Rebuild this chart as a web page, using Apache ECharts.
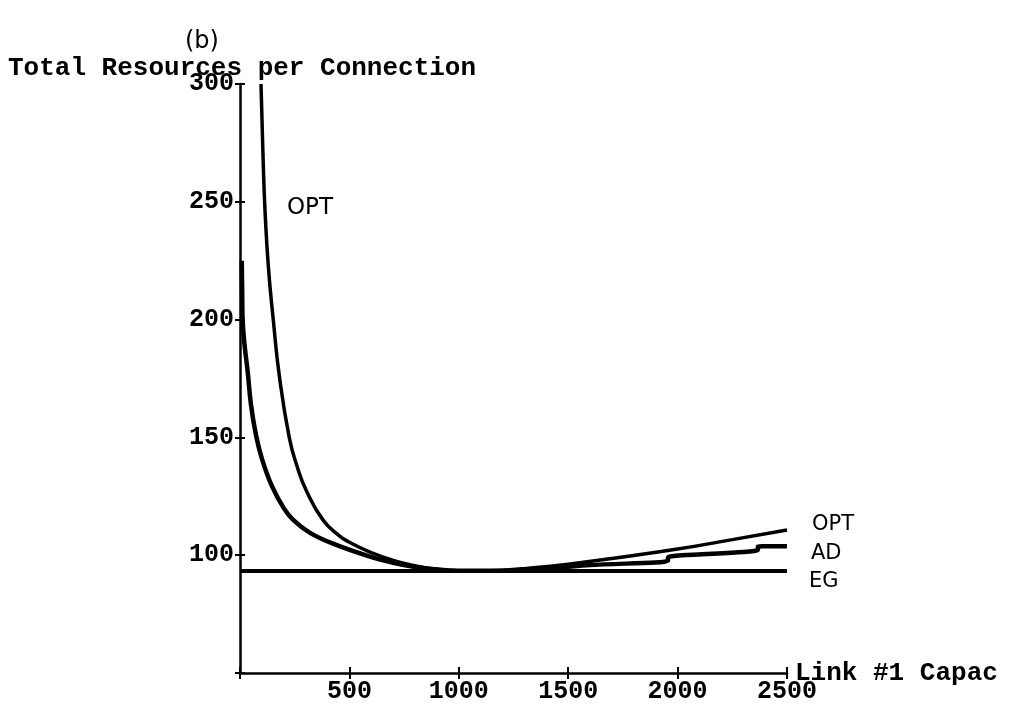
<!DOCTYPE html>
<html>
<head>
<meta charset="utf-8">
<script src="https://cdn.jsdelivr.net/npm/echarts@6/dist/echarts.min.js"></script>
<style>
html,body{margin:0;padding:0;background:#fff;}
#chart{width:1011px;height:710px;}
</style>
</head>
<body>
<div id="chart"></div>
<script>
// ---- data ----
const xTicks = [0, 500, 1000, 1500, 2000, 2500];
const yTicks = [50, 100, 150, 200, 250, 300];

const optX = [96, 105, 115, 130, 152, 180, 225, 260, 305, 379, 450, 500, 594, 700, 800, 900, 1000, 1100, 1200, 1300, 1500, 1700, 2000, 2250, 2500];
const optY = [300, 270, 245, 222, 200, 176, 150, 138, 127, 115, 108.5, 105.5, 101.3, 97.8, 95.5, 94, 93.4, 93.3, 93.6, 94.3, 96.2, 98.6, 102.6, 106.6, 110.7];

const adX = [8, 10, 12, 20, 35, 50, 73, 100, 145, 200, 243, 320, 425, 594, 700, 800, 900, 1000, 1200, 1430, 1600, 1956, 1956, 2367, 2367, 2500];
const adY = [225, 212, 200, 190, 178, 164, 151, 141, 129.5, 120, 115, 109.5, 104.9, 99.4, 96.8, 95, 93.9, 93.4, 93.4, 94.6, 95.8, 97.7, 99.0, 102.3, 103.7, 103.8];

const egX = [0, 2500];
const egY = [93.3, 93.3];

const seriesNames = ['OPT', 'AD', 'EG'];
const annotation = {text: 'OPT', x: 320, y: 247.5};

const zip = (xs, ys) => xs.map((x, i) => [x, ys[i]]);

const mono = 'Liberation Mono';
const hand = 'DejaVu Sans';

const chart = echarts.init(document.getElementById('chart'));

const baseX = {
  type: 'value', min: xTicks[0], max: xTicks[xTicks.length - 1], interval: 500,
  splitLine: {show: false}
};
const baseY = {
  type: 'value', min: yTicks[0], max: yTicks[yTicks.length - 1], interval: 50,
  splitLine: {show: false}
};

chart.setOption({
  animation: false,
  backgroundColor: '#fff',
  title: [
    {text: '(b)', left: 185, top: 30, padding: 0,
     textStyle: {fontFamily: hand, fontSize: 24, fontWeight: 'normal', color: '#000'}},
    {text: 'Total Resources per Connection', left: 8, top: 55, padding: 0,
     textStyle: {fontFamily: mono, fontSize: 26, fontWeight: 'bold', color: '#000'}}
  ],
  grid: {left: 240, right: 224, top: 84, bottom: 37, containLabel: false},
  xAxis: [
    Object.assign({}, baseX, {
      position: 'bottom',
      name: 'Link #1 Capac', nameLocation: 'end', nameGap: 8, nameMoveOverlap: false,
      nameTextStyle: {fontFamily: mono, fontSize: 26, fontWeight: 'bold', color: '#000'},
      axisLine: {show: true, onZero: false, lineStyle: {color: '#000', width: 2.5}},
      axisTick: {show: true, inside: false, length: 6, lineStyle: {color: '#000', width: 2}},
      axisLabel: {show: true, margin: 6, fontFamily: mono, fontSize: 25, fontWeight: 'bold', color: '#000',
        formatter: v => (v === 0 ? '' : String(v))}
    }),
    Object.assign({}, baseX, {
      position: 'bottom',
      axisLine: {show: false},
      axisTick: {show: true, inside: true, length: 6, lineStyle: {color: '#000', width: 2}},
      axisLabel: {show: false}
    })
  ],
  yAxis: [
    Object.assign({}, baseY, {
      position: 'left',
      axisLine: {show: true, onZero: false, lineStyle: {color: '#000', width: 2.5}},
      axisTick: {show: true, inside: false, length: 5, lineStyle: {color: '#000', width: 2}},
      axisLabel: {show: true, margin: 6, fontFamily: mono, fontSize: 25, fontWeight: 'bold', color: '#000',
        formatter: v => (v === 50 ? '' : String(v))}
    }),
    Object.assign({}, baseY, {
      position: 'left',
      axisLine: {show: false},
      axisTick: {show: true, inside: true, length: 5, lineStyle: {color: '#000', width: 2}},
      axisLabel: {show: false}
    })
  ],
  series: [
    {
      name: seriesNames[0], type: 'line', xAxisIndex: 0, yAxisIndex: 0,
      data: zip(optX, optY), smooth: 0.5, symbol: 'none',
      lineStyle: {color: '#000', width: 3.5},
      endLabel: {show: true, formatter: seriesNames[0], distance: 25, offset: [0, -5],
        fontFamily: hand, fontSize: 21, color: '#000'},
      markPoint: {
        symbol: 'circle', symbolSize: 0,
        data: [{coord: [annotation.x, annotation.y], value: annotation.text}],
        label: {show: true, position: 'inside', formatter: annotation.text,
          fontFamily: hand, fontSize: 23, color: '#000'}
      }
    },
    {
      name: seriesNames[1], type: 'line', xAxisIndex: 0, yAxisIndex: 0,
      data: zip(adX, adY), smooth: 0.35, symbol: 'none',
      lineStyle: {color: '#000', width: 4.5},
      endLabel: {show: true, formatter: seriesNames[1], distance: 24, offset: [0, 7],
        fontFamily: hand, fontSize: 21, color: '#000'}
    },
    {
      name: seriesNames[2], type: 'line', xAxisIndex: 0, yAxisIndex: 0,
      data: zip(egX, egY), symbol: 'none',
      lineStyle: {color: '#000', width: 4},
      endLabel: {show: true, formatter: seriesNames[2], distance: 22, offset: [0, 11],
        fontFamily: hand, fontSize: 21, color: '#000'}
    }
  ]
});
</script>
</body>
</html>
